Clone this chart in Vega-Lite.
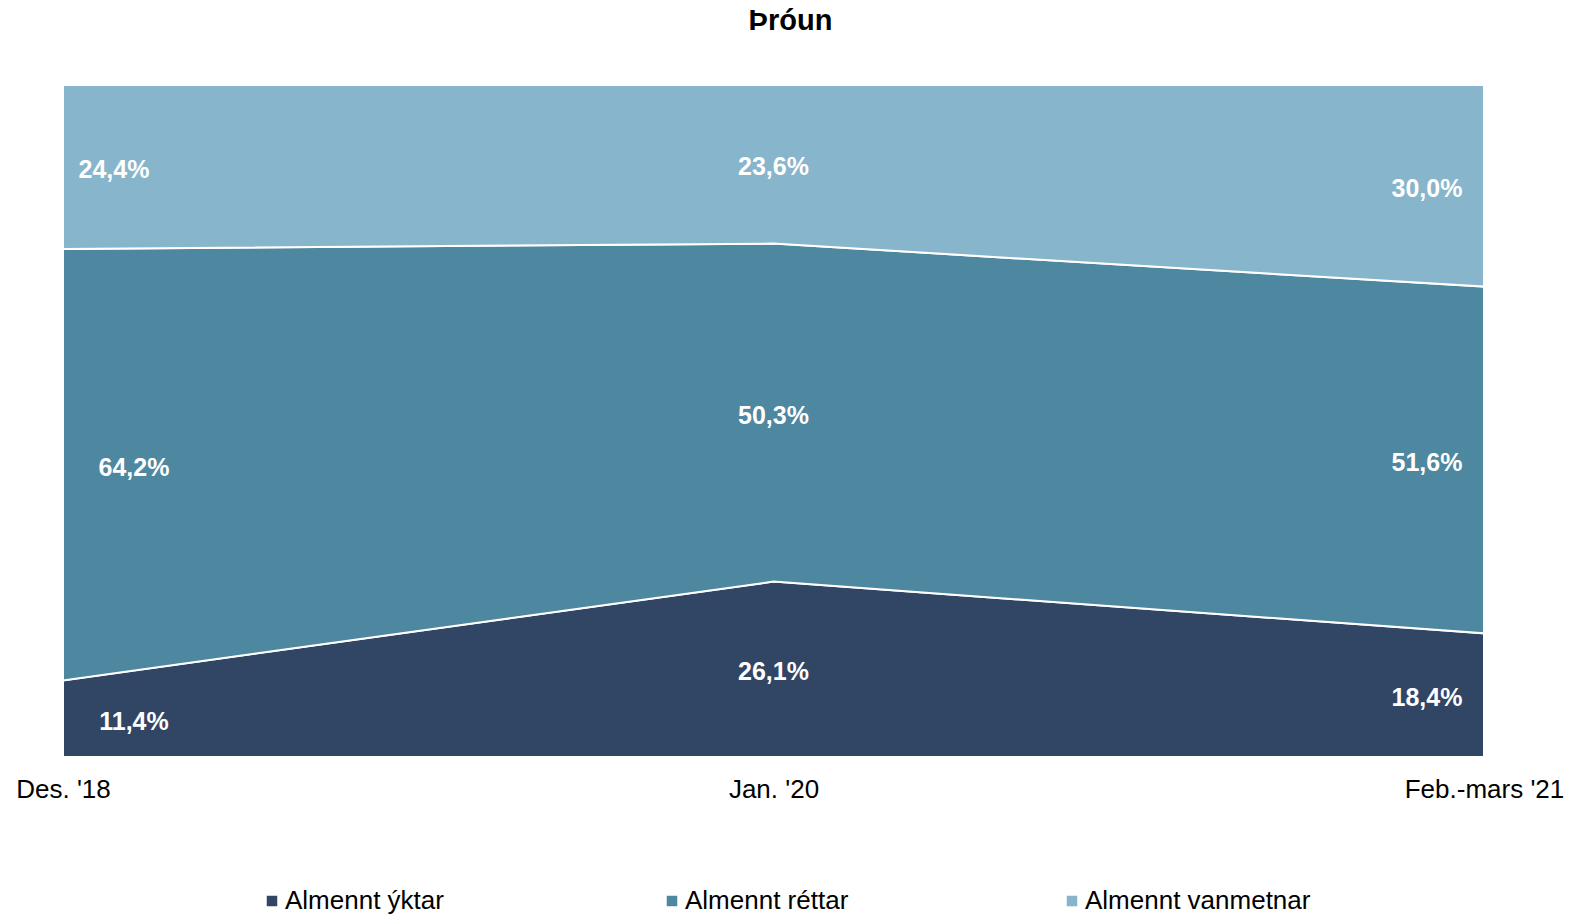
{
  "$schema": "https://vega.github.io/schema/vega-lite/v6.json",
  "width": 1421,
  "height": 672,
  "autosize": {"type": "none"},
  "padding": {"left": 63, "top": 85, "right": 96, "bottom": 158},
  "background": "white",
  "config": {
    "view": {"stroke": null},
    "font": "Liberation Sans",
    "locale": {"number": {"decimal": ",", "thousands": ".", "grouping": [3], "currency": ["", " kr."]}}
  },
  "title": {
    "text": "Þróun",
    "fontSize": 29,
    "fontWeight": "bold",
    "color": "black",
    "font": "Liberation Sans",
    "offset": 45,
    "dx": 17
  },
  "data": {
    "values": [
      {"period": "Des. '18", "series": "Almennt ýktar", "k": 1, "v": 0.114},
      {"period": "Des. '18", "series": "Almennt réttar", "k": 2, "v": 0.642},
      {"period": "Des. '18", "series": "Almennt vanmetnar", "k": 3, "v": 0.244},
      {"period": "Jan. '20", "series": "Almennt ýktar", "k": 1, "v": 0.261},
      {"period": "Jan. '20", "series": "Almennt réttar", "k": 2, "v": 0.503},
      {"period": "Jan. '20", "series": "Almennt vanmetnar", "k": 3, "v": 0.236},
      {"period": "Feb.-mars '21", "series": "Almennt ýktar", "k": 1, "v": 0.184},
      {"period": "Feb.-mars '21", "series": "Almennt réttar", "k": 2, "v": 0.516},
      {"period": "Feb.-mars '21", "series": "Almennt vanmetnar", "k": 3, "v": 0.300}
    ]
  },
  "transform": [
    {"stack": "v", "groupby": ["period"], "sort": [{"field": "k"}], "as": ["v0", "v1"]},
    {"calculate": "(datum.v0 + datum.v1) / 2", "as": "mid"}
  ],
  "encoding": {
    "x": {
      "field": "period",
      "type": "ordinal",
      "sort": ["Des. '18", "Jan. '20", "Feb.-mars '21"],
      "scale": {"type": "point", "padding": 0},
      "axis": {
        "title": null,
        "domain": false,
        "ticks": false,
        "labelAngle": 0,
        "labelFontSize": 26,
        "labelColor": "black",
        "labelPadding": 19,
        "labelFont": "Liberation Sans"
      }
    }
  },
  "layer": [
    {
      "mark": {"type": "area", "stroke": "white", "strokeWidth": 2, "opacity": 1},
      "encoding": {
        "y": {"field": "v1", "type": "quantitative", "scale": {"domain": [0, 1], "nice": false}, "axis": null},
        "y2": {"field": "v0"},
        "color": {
          "field": "series",
          "type": "nominal",
          "sort": ["Almennt ýktar", "Almennt réttar", "Almennt vanmetnar"],
          "scale": {"domain": ["Almennt ýktar", "Almennt réttar", "Almennt vanmetnar"], "range": ["#314564", "#4e87a0", "#87b5cb"]},
          "legend": {
            "title": null,
            "orient": "none",
            "direction": "horizontal",
            "legendX": 196,
            "legendY": 803,
            "symbolType": "square",
            "symbolSize": 110,
            "symbolStrokeWidth": 0,
            "labelFontSize": 26,
            "labelColor": "black",
            "labelFont": "Liberation Sans",
            "labelOffset": 0,
            "labelLimit": 400,
            "gridAlign": "all",
            "columnPadding": 148
          }
        },
        "order": {"field": "k"}
      }
    },
    {
      "transform": [{"filter": "datum.period === \"Des. '18\" && datum.k < 3"}],
      "mark": {"type": "text", "color": "white", "fontSize": 25, "fontWeight": "bold", "dx": 71, "dy": 3, "baseline": "middle"},
      "encoding": {
        "y": {"field": "mid", "type": "quantitative", "scale": {"domain": [0, 1], "nice": false}},
        "text": {"field": "v", "type": "quantitative", "format": ".1%"}
      }
    },
    {
      "transform": [{"filter": "datum.period === \"Des. '18\" && datum.k === 3"}],
      "mark": {"type": "text", "color": "white", "fontSize": 25, "fontWeight": "bold", "dx": 51, "dy": 3, "baseline": "middle"},
      "encoding": {
        "y": {"field": "mid", "type": "quantitative", "scale": {"domain": [0, 1], "nice": false}},
        "text": {"field": "v", "type": "quantitative", "format": ".1%"}
      }
    },
    {
      "transform": [{"filter": "datum.period === \"Jan. '20\""}],
      "mark": {"type": "text", "color": "white", "fontSize": 25, "fontWeight": "bold", "dy": 3, "baseline": "middle"},
      "encoding": {
        "y": {"field": "mid", "type": "quantitative", "scale": {"domain": [0, 1], "nice": false}},
        "text": {"field": "v", "type": "quantitative", "format": ".1%"}
      }
    },
    {
      "transform": [{"filter": "datum.period === \"Feb.-mars '21\""}],
      "mark": {"type": "text", "color": "white", "fontSize": 25, "fontWeight": "bold", "dx": -57, "dy": 3, "baseline": "middle"},
      "encoding": {
        "y": {"field": "mid", "type": "quantitative", "scale": {"domain": [0, 1], "nice": false}},
        "text": {"field": "v", "type": "quantitative", "format": ".1%"}
      }
    }
  ]
}
